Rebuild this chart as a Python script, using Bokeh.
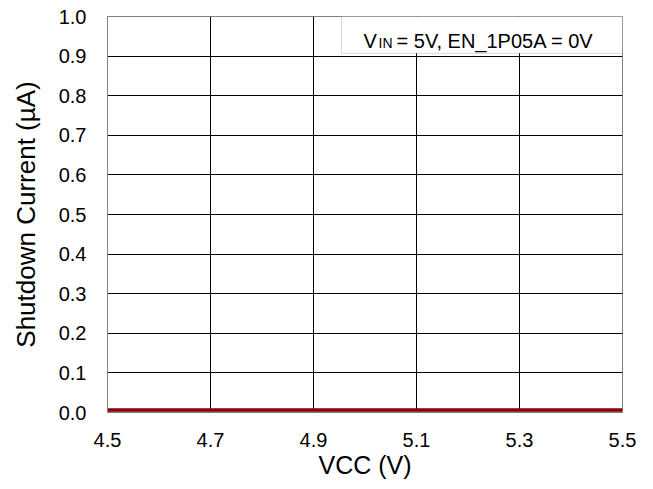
from bokeh.plotting import figure
from bokeh.models import ColumnDataSource, Label, BoxAnnotation, FixedTicker, CustomJSTickFormatter
from bokeh.transform import dodge
from bokeh.embed import file_html
from bokeh.resources import INLINE

# data
vcc = [4.5, 4.6, 4.7, 4.8, 4.9, 5.0, 5.1, 5.2, 5.3, 5.4, 5.5]
shutdown_current = [0.006, 0.006, 0.006, 0.006, 0.006, 0.006, 0.006, 0.006, 0.006, 0.006, 0.006]
x_ticks = [4.5, 4.7, 4.9, 5.1, 5.3, 5.5]
y_ticks = [0.0, 0.1, 0.2, 0.3, 0.4, 0.5, 0.6, 0.7, 0.8, 0.9, 1.0]

FONT = "Liberation Sans"

src = ColumnDataSource(dict(x=vcc, y=shutdown_current))

p = figure(width=645, height=481, output_backend="svg", toolbar_location=None,
           x_range=(4.5, 5.5), y_range=(0.0, 1.0),
           min_border_left=107, min_border_right=23, min_border_top=16, min_border_bottom=69)
p.background_fill_color = "white"
p.border_fill_color = "white"
p.outline_line_color = "#808080"
p.outline_line_width = 1

for ax in (p.xaxis[0], p.yaxis[0]):
    ax.major_label_text_font = FONT
    ax.major_label_text_font_size = "20px"
    ax.major_label_text_color = "black"
    ax.axis_label_text_font = FONT
    ax.axis_label_text_font_style = "normal"
    ax.axis_label_text_color = "black"
    ax.axis_line_color = "#808080"
    ax.major_tick_out = 0
    ax.major_tick_in = 0
    ax.minor_tick_out = 0
    ax.minor_tick_in = 0

p.xaxis.axis_label_text_font_size = "25px"
p.yaxis.axis_label_text_font_size = "26px"
p.xaxis.ticker = FixedTicker(ticks=x_ticks)
p.yaxis.ticker = FixedTicker(ticks=y_ticks)
p.xaxis.formatter = CustomJSTickFormatter(code="return tick.toFixed(1);")
p.yaxis.formatter = CustomJSTickFormatter(code="return tick.toFixed(1);")
p.xaxis.major_label_standoff = 20
p.yaxis.major_label_standoff = 21
p.xaxis.axis_label = "VCC (V)"
p.yaxis.axis_label = "Shutdown Current (µA)"
p.xaxis.axis_label_standoff = 1
p.yaxis.axis_label_standoff = 15

p.xgrid.ticker = FixedTicker(ticks=x_ticks)
p.ygrid.ticker = FixedTicker(ticks=y_ticks)
p.xgrid.grid_line_color = "#000000"
p.ygrid.grid_line_color = "#000000"
p.xgrid.grid_line_width = 1
p.ygrid.grid_line_width = 1

# shadow and line
p.line(x="x", y=dodge("y", -0.005, range=p.y_range), source=src, line_color="#c0c0c0", line_width=3)
p.line(x="x", y="y", source=src, line_color="#8b0000", line_width=3.5)

# annotation box
box = BoxAnnotation(left=4.9545, right=5.5, top=1.0, bottom=0.907,
                    fill_color="white", fill_alpha=1.0, line_color="#808080", line_width=1, level="overlay")
p.add_layout(box)

lab_kw = dict(text_font=FONT, text_color="black", text_baseline="alphabetic", level="overlay")
p.add_layout(Label(x=4.9545, y=0.937, x_offset=22, text="V", text_font_size="20px", **lab_kw))
p.add_layout(Label(x=4.9545, y=0.932, x_offset=37, text="IN", text_font_size="14px", **lab_kw))
p.add_layout(Label(x=4.9545, y=0.937, x_offset=55, text="= 5V, EN_1P05A = 0V", text_font_size="20px", **lab_kw))

open("out.html", "w").write(file_html(p, INLINE))
